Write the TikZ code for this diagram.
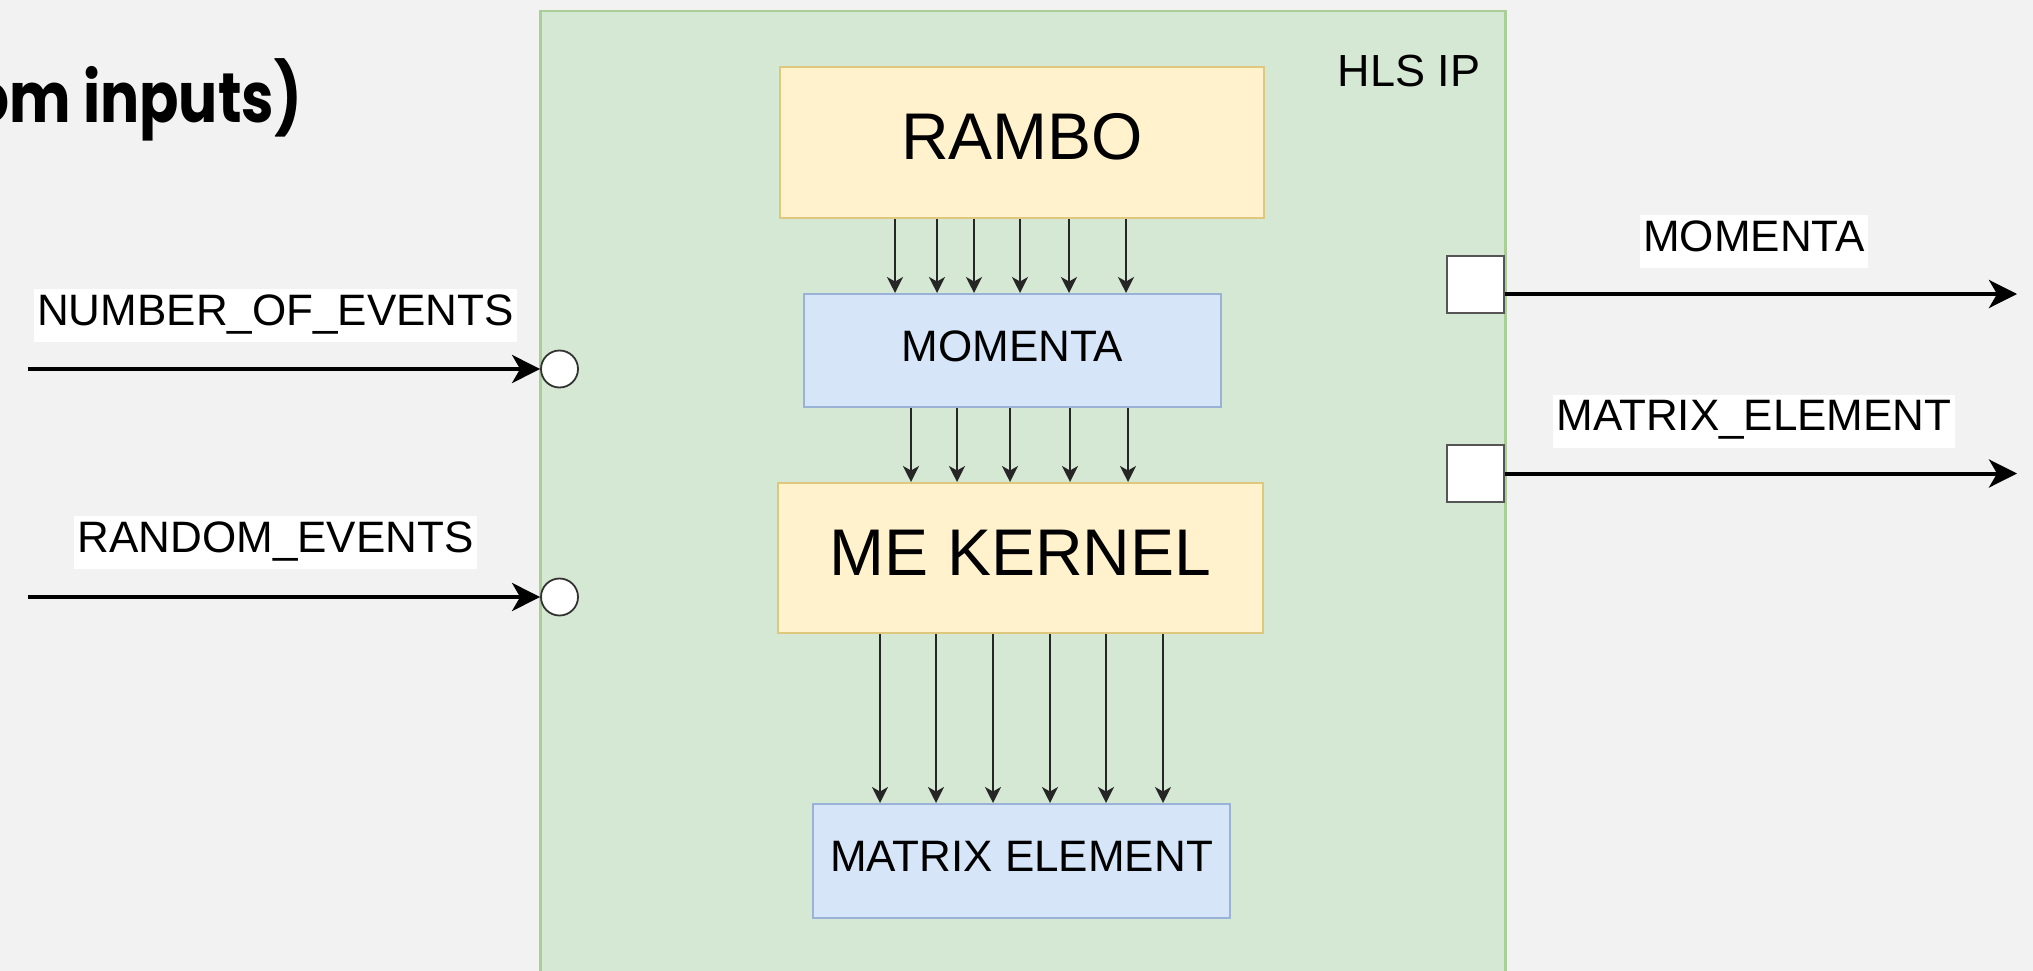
\documentclass[tikz,border=0pt]{standalone}
\usepackage{fontspec}
\setmainfont{Liberation Sans}
\newfontfamily\titlefont{Poppins}[FakeStretch=0.83]
\usetikzlibrary{arrows.meta}
\definecolor{bgc}{HTML}{F2F2F2}
\definecolor{gfill}{HTML}{D5E8D4}
\definecolor{gdraw}{HTML}{A9CF97}
\definecolor{yfill}{HTML}{FFF2CC}
\definecolor{ydraw}{HTML}{E0C77E}
\definecolor{bfill}{HTML}{D6E5F8}
\definecolor{bdraw}{HTML}{9AB2D8}
\definecolor{portdraw}{HTML}{555555}
\begin{document}
\begin{tikzpicture}[x=1pt,y=-1pt,
  yellowbox/.style={draw=ydraw, fill=yfill, line width=2pt, inner sep=0pt,
    font=\fontsize{66}{70}\selectfont, text height=47pt, text depth=14pt},
  bluebox/.style={draw=bdraw, fill=bfill, line width=2pt, inner sep=0pt,
    font=\fontsize{44}{50}\selectfont, text height=31.5pt, text depth=10pt},
  lbl/.style={fill=white, inner xsep=3pt, inner ysep=0pt, minimum height=53pt,
    font=\fontsize{44}{50}\selectfont, text height=31.5pt, text depth=12pt},
  portcirc/.style={circle, draw=black!80, fill=white, line width=1.8pt, inner sep=0pt, minimum size=37pt},
  portsq/.style={rectangle, draw=portdraw, fill=white, line width=2pt, inner sep=0pt, minimum size=57pt},
  thinarrow/.style={draw=black!85, line width=1.6pt, -{Stealth[length=16pt,width=16pt,inset=4.5pt]}},
  bigarrow/.style={draw=black, line width=4pt, -{Stealth[length=28pt,width=28pt,inset=8pt]}}]
\useasboundingbox (0,0) rectangle (2033,971);
\clip (0,0) rectangle (2033,971);
\fill[bgc] (0,0) rectangle (2033,971);

% title fragment
\node[anchor=base east, inner sep=0pt, font=\titlefont\bfseries\fontsize{70}{80}\selectfont] (title) at (302,122) {om inputs)};

% HLS IP container
\node[draw=gdraw, fill=gfill, line width=2.5pt, minimum width=965pt, minimum height=1000pt, inner sep=0pt, anchor=north west] (ip) at (539,10) {};
\node[anchor=base, inner sep=0pt, font=\fontsize{45}{50}\selectfont] (iplabel) at (1409,87) {HLS IP};

% internal blocks
\node[yellowbox, minimum width=484pt, minimum height=151pt] (rambo) at (1022,142.5) {RAMBO};
\node[bluebox, minimum width=417pt, minimum height=113pt] (mom) at (1012.5,350.5) {MOMENTA};
\node[yellowbox, minimum width=485pt, minimum height=150pt, text depth=12pt] (kern) at (1020.5,558) {ME KERNEL};
\node[bluebox, minimum width=417pt, minimum height=114pt] (me) at (1021.5,861) {MATRIX ELEMENT};

% internal connectors
\foreach \x in {895,937,974,1020,1069,1126}
  \draw[thinarrow] (rambo.south -| \x,0) -- (mom.north -| \x,0);
\foreach \x in {911,957,1010,1070,1128}
  \draw[thinarrow] (mom.south -| \x,0) -- (kern.north -| \x,0);
\foreach \x in {880,936,993,1050,1106,1163}
  \draw[thinarrow] (kern.south -| \x,0) -- (me.north -| \x,0);

% input ports
\node[portcirc] (c1) at (559.5,369) {};
\node[portcirc] (c2) at (559.5,597) {};
\coordinate (in1) at (27.5,369);
\coordinate (in2) at (27.5,597);
\draw[bigarrow] (in1) -- (c1.west);
\draw[bigarrow] (in2) -- (c2.west);
\node[lbl] (l1) at (275.5,315.5) {NUMBER\_OF\_EVENTS};
\node[lbl] (l2) at (275.5,542.5) {RANDOM\_EVENTS};

% output ports
\node[portsq] (s1) at (1475,284) {};
\node[portsq] (s2) at (1475,473.5) {};
\coordinate (out1) at (2017,294);
\coordinate (out2) at (2017,473.5);
\draw[bigarrow] (s1.east |- out1) -- (out1);
\draw[bigarrow] (s2.east |- out2) -- (out2);
\node[lbl] (l3) at (1754,241.5) {MOMENTA};
\node[lbl] (l4) at (1754,421) {MATRIX\_ELEMENT};
\end{tikzpicture}
\end{document}
